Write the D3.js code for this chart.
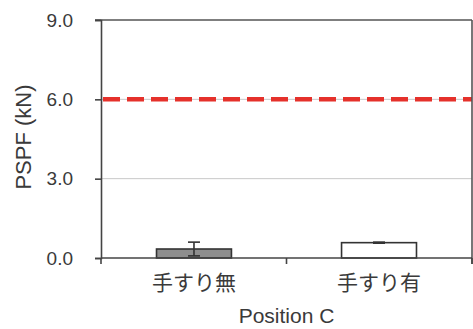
<!DOCTYPE html>
<html>
<head>
<meta charset="utf-8">
<script src="https://cdn.jsdelivr.net/npm/d3@7"></script>
<style>
  body { margin: 0; background: #fff; }
  svg { display: block; }
  text { font-family: "Liberation Sans", Arial, sans-serif; fill: #3a3a3a; }
  .cjk { font-family: "Noto Sans CJK JP", sans-serif; }
</style>
</head>
<body>
<svg id="chart" width="473" height="329"></svg>
<script>
// data
var categories = ['手すり無', '手すり有'];
var means = [0.34, 0.58];
var errs = [0.26, 0.02];
var yTicks = [0, 3, 6, 9];
var threshold = 6.0;

var svg = d3.select('#chart');
var m = { left: 101, right: 472, top: 20, bottom: 258 };

var x = d3.scaleBand().domain(categories).range([m.left, m.right])
  .paddingInner(0.595).paddingOuter(0.3);
var y = d3.scaleLinear().domain([0, 9]).range([m.bottom, m.top]);

// gridlines
svg.append('g').selectAll('line')
  .data(yTicks.filter(function(d) { return d > 0 && d < 9; }))
  .enter().append('line')
  .attr('x1', m.left).attr('x2', m.right)
  .attr('y1', d => y(d)).attr('y2', d => y(d))
  .attr('stroke', '#c8c8c8').attr('stroke-width', 1);

// bars
svg.append('g').selectAll('rect')
  .data(categories)
  .enter().append('rect')
  .attr('x', d => x(d))
  .attr('y', (d, i) => y(means[i]))
  .attr('width', x.bandwidth())
  .attr('height', (d, i) => y(0) - y(means[i]))
  .attr('fill', (d, i) => i == 0 ? '#8e8e8e' : '#fff')
  .attr('stroke', '#333').attr('stroke-width', 1.6);

// error bars
var eb = svg.append('g').attr('stroke', '#333').attr('stroke-width', 1.6);
categories.forEach(function(c, i) {
  var cx = x(c) + x.bandwidth() / 2;
  var hi = y(means[i] + errs[i]), lo = y(means[i] - errs[i]);
  eb.append('line').attr('x1', cx).attr('x2', cx).attr('y1', hi).attr('y2', lo);
  eb.append('line').attr('x1', cx - 6).attr('x2', cx + 6).attr('y1', hi).attr('y2', hi);
  eb.append('line').attr('x1', cx - 6).attr('x2', cx + 6).attr('y1', lo).attr('y2', lo);
});

// threshold line
svg.append('line')
  .attr('x1', m.left).attr('x2', m.right)
  .attr('y1', y(threshold)).attr('y2', y(threshold))
  .attr('stroke', '#e5312b').attr('stroke-width', 4.5)
  .attr('stroke-dasharray', '17,7').attr('stroke-dashoffset', -2);

// frame
svg.append('line').attr('x1', m.left - 6).attr('x2', m.right)
  .attr('y1', m.top).attr('y2', m.top).attr('stroke', '#555').attr('stroke-width', 1.6);
svg.append('line').attr('x1', m.right).attr('x2', m.right)
  .attr('y1', m.top).attr('y2', m.bottom + 6).attr('stroke', '#555').attr('stroke-width', 1.6);

// y axis
var yAxis = svg.append('g').attr('transform', 'translate(' + m.left + ',0)')
  .call(d3.axisLeft(y).tickValues(yTicks).tickFormat(d3.format('.1f'))
    .tickSize(6).tickPadding(22));
yAxis.selectAll('path, line').attr('stroke', '#444').attr('stroke-width', 1.6);
yAxis.selectAll('text').attr('font-size', 19).attr('fill', '#3a3a3a')
  .style('font-family', '"Liberation Sans", Arial, sans-serif');

// x axis
var xAxis = svg.append('g').attr('transform', 'translate(0,' + m.bottom + ')');
xAxis.append('line').attr('x1', m.left).attr('x2', m.right)
  .attr('stroke', '#444').attr('stroke-width', 1.6);
xAxis.selectAll('line.tk')
  .data([m.left, (m.left + m.right) / 2, m.right])
  .enter().append('line').attr('class', 'tk')
  .attr('x1', d => d).attr('x2', d => d).attr('y1', 0).attr('y2', 6)
  .attr('stroke', '#444').attr('stroke-width', 1.6);
xAxis.selectAll('text')
  .data(categories)
  .enter().append('text').attr('class', 'cjk')
  .attr('x', d => x(d) + x.bandwidth() / 2)
  .attr('y', 32)
  .attr('text-anchor', 'middle')
  .attr('font-size', 21)
  .text(d => d);

// titles
svg.append('text')
  .attr('transform', 'translate(31,137) rotate(-90)')
  .attr('text-anchor', 'middle')
  .attr('font-size', 22)
  .text('PSPF (kN)');
svg.append('text')
  .attr('x', (m.left + m.right) / 2).attr('y', 323)
  .attr('text-anchor', 'middle')
  .attr('font-size', 21)
  .text('Position C');
</script>
</body>
</html>
